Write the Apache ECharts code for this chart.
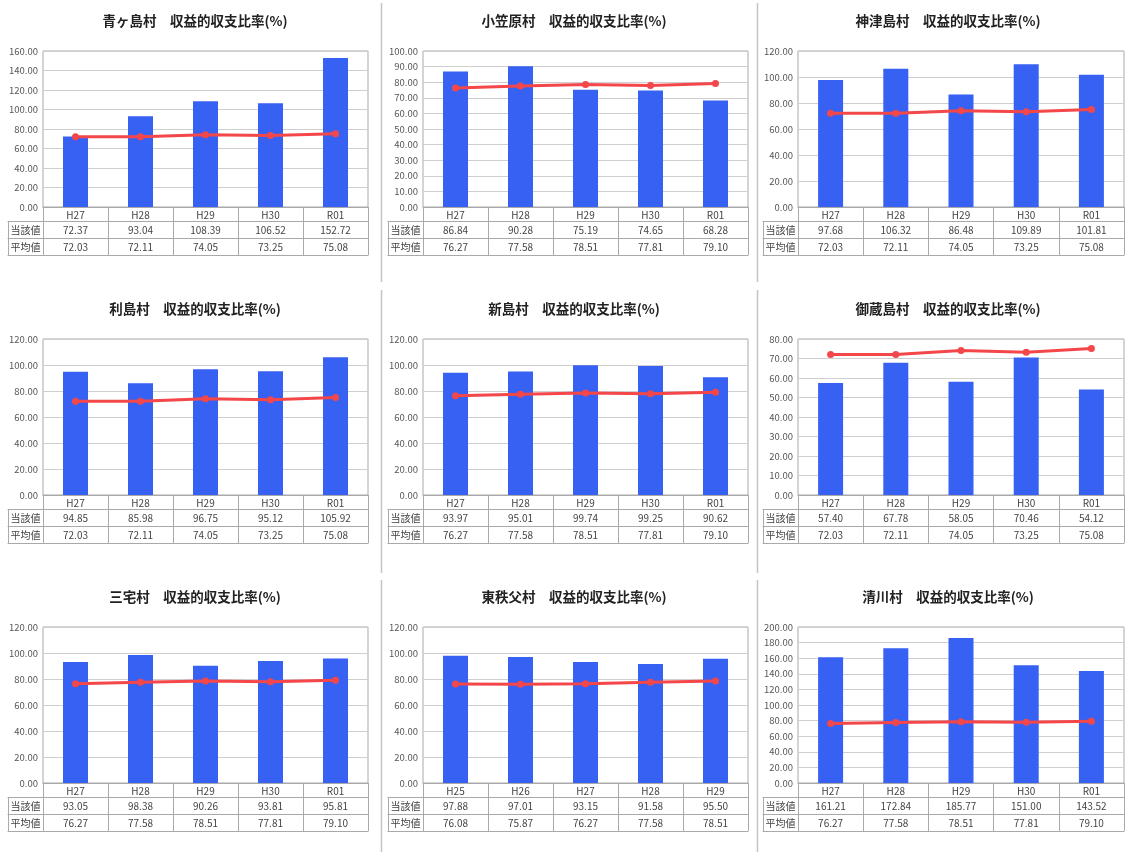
<!DOCTYPE html>
<html>
<head>
<meta charset="utf-8">
<script src="https://cdn.jsdelivr.net/npm/echarts@6/dist/echarts.min.js"></script>
<style>
html,body{margin:0;padding:0;background:#fff;}
#main{width:1129px;height:852px;}
</style>
</head>
<body>
<div id="main"></div>
<script>
// ---- data ----
const categories = ['H27', 'H28', 'H29', 'H30', 'R01'];
const categoriesHigashichichibu = ['H25', 'H26', 'H27', 'H28', 'H29'];
const rowLabels = ['当該値', '平均値'];
const titleSuffix = '　収益的収支比率(%)';

const villageNames = ['青ヶ島村', '小笠原村', '神津島村', '利島村', '新島村', '御蔵島村', '三宅村', '東秩父村', '清川村'];

const aogashimaValues = [72.37, 93.04, 108.39, 106.52, 152.72];
const ogasawaraValues = [86.84, 90.28, 75.19, 74.65, 68.28];
const kozushimaValues = [97.68, 106.32, 86.48, 109.89, 101.81];
const toshimaValues = [94.85, 85.98, 96.75, 95.12, 105.92];
const niijimaValues = [93.97, 95.01, 99.74, 99.25, 90.62];
const mikurajimaValues = [57.40, 67.78, 58.05, 70.46, 54.12];
const miyakeValues = [93.05, 98.38, 90.26, 93.81, 95.81];
const higashichichibuValues = [97.88, 97.01, 93.15, 91.58, 95.50];
const kiyokawaValues = [161.21, 172.84, 185.77, 151.00, 143.52];

const averageIslandA = [72.03, 72.11, 74.05, 73.25, 75.08];
const averageIslandB = [76.27, 77.58, 78.51, 77.81, 79.10];
const averageHigashichichibu = [76.08, 75.87, 76.27, 77.58, 78.51];

const axisMax = [160, 100, 120, 120, 120, 80, 120, 120, 200];
const axisInterval = [20, 10, 20, 20, 20, 10, 20, 20, 20];

// ---- build ----
const panelCats = [categories, categories, categories, categories, categories, categories, categories, categoriesHigashichichibu, categories];
const panelCur = [aogashimaValues, ogasawaraValues, kozushimaValues, toshimaValues, niijimaValues, mikurajimaValues, miyakeValues, higashichichibuValues, kiyokawaValues];
const panelAvg = [averageIslandA, averageIslandB, averageIslandA, averageIslandA, averageIslandB, averageIslandA, averageIslandB, averageHigashichichibu, averageIslandB];

const colX = [0, 380, 755];
const colW = [325, 325, 326];
const colCenter = [190, 569, 943];
const rowTop = [51, 339, 627];
const plotH = 156;
const headH = 14;
const rowH = 17;
const FONT = '"Noto Sans CJK JP", "DejaVu Sans", sans-serif';
const LINE = '#a9a9a9';
const TXT = '#444';
const BLUE = '#3761f2';
const RED = '#f4474a';

const option = {
  animation: false,
  backgroundColor: '#fff',
  title: [], grid: [], xAxis: [], yAxis: [], series: [], graphic: []
};

const fmt = v => v.toFixed(2);

for (let p = 0; p < 9; p++) {
  const c = p % 3, r = Math.floor(p / 3);
  const cats = panelCats[p];
  const cur = panelCur[p];
  const avg = panelAvg[p];

  option.title.push({
    text: villageNames[p] + titleSuffix,
    left: colCenter[c], top: rowTop[r] - 42, textAlign: 'center',
    textStyle: { fontFamily: FONT, fontSize: 13.5, fontWeight: 'bold', color: '#222' }
  });

  const gMain = option.grid.length;
  option.grid.push({
    left: colX[c] + 43, top: rowTop[r], width: colW[c], height: plotH,
    show: true, borderColor: LINE, borderWidth: 1, backgroundColor: '#fff'
  });
  // grid for the row-heading column of the table; its bottom sits at the top of the 当該値 row
  const gLab = option.grid.length;
  option.grid.push({
    left: colX[c] + 8, top: rowTop[r] + headH + 20, width: 35, height: plotH - 20,
    show: false
  });

  // main grid axes
  const xBase = option.xAxis.length;
  const tableRows = [
    { offset: 0, tick: headH, labels: cats, margin: 2 },
    { offset: headH, tick: rowH, labels: cur.map(fmt), margin: 3 },
    { offset: headH + rowH, tick: rowH, labels: avg.map(fmt), margin: 3 },
    { offset: headH + 2 * rowH, tick: 0, labels: null, margin: 3 }
  ];
  tableRows.forEach(row => {
    option.xAxis.push({
      type: 'category', gridIndex: gMain, position: 'bottom', offset: row.offset,
      data: row.labels ? row.labels : cats,
      boundaryGap: true,
      axisLine: { show: true, lineStyle: { color: LINE, width: 1 } },
      axisTick: { show: row.tick > 0, length: row.tick, inside: false, alignWithLabel: false, interval: 0, lineStyle: { color: LINE } },
      axisLabel: { show: !!row.labels, interval: 0, margin: row.margin, fontFamily: FONT, fontSize: 10, color: TXT, verticalAlign: 'top', lineHeight: 12 },
      splitLine: { show: false }
    });
  });
  const yMain = option.yAxis.length;
  option.yAxis.push({
    type: 'value', gridIndex: gMain, min: 0, max: axisMax[p], interval: axisInterval[p],
    axisLine: { show: false }, axisTick: { show: false },
    axisLabel: { formatter: v => v.toFixed(2), fontFamily: FONT, fontSize: 9.5, color: '#555', margin: 5 },
    splitLine: { show: true, lineStyle: { color: '#cfcfcf', width: 1 } }
  });

  // label column axes (row headings of the table)
  const labelRows = [
    { offset: 0, tick: rowH, labels: [rowLabels[0]] },
    { offset: rowH, tick: rowH, labels: [rowLabels[1]] },
    { offset: 2 * rowH, tick: 0, labels: null }
  ];
  labelRows.forEach(row => {
    option.xAxis.push({
      type: 'category', gridIndex: gLab, position: 'bottom', offset: row.offset,
      data: row.labels ? row.labels : [''],
      boundaryGap: true,
      axisLine: { show: true, lineStyle: { color: LINE, width: 1 } },
      axisTick: { show: row.tick > 0, length: row.tick, inside: false, alignWithLabel: false, interval: 0, lineStyle: { color: LINE } },
      axisLabel: { show: !!row.labels, interval: 0, margin: 3, fontFamily: FONT, fontSize: 10, color: TXT, verticalAlign: 'top', lineHeight: 12 },
      splitLine: { show: false }
    });
  });
  option.yAxis.push({
    type: 'value', gridIndex: gLab, show: false, min: 0, max: 1,
    axisLine: { show: false }, axisTick: { show: false }, axisLabel: { show: false }, splitLine: { show: false }
  });

  option.series.push({
    type: 'bar', xAxisIndex: xBase, yAxisIndex: yMain, data: cur,
    barWidth: 25, itemStyle: { color: BLUE }, z: 2
  });
  option.series.push({
    type: 'line', xAxisIndex: xBase, yAxisIndex: yMain, data: avg,
    symbol: 'circle', symbolSize: 7, showSymbol: true,
    lineStyle: { color: RED, width: 3 }, itemStyle: { color: RED }, z: 3
  });
}

// column separators
[381, 757].forEach(x => {
  [[3, 282], [290, 573], [580, 852]].forEach(seg => {
    option.graphic.push({
      type: 'line', silent: true,
      shape: { x1: x + 0.5, y1: seg[0], x2: x + 0.5, y2: seg[1] },
      style: { stroke: '#c4c4c4', lineWidth: 1.5 }
    });
  });
});

const chart = echarts.init(document.getElementById('main'), null, { renderer: 'canvas', width: 1129, height: 852 });
chart.setOption(option);
</script>
</body>
</html>
